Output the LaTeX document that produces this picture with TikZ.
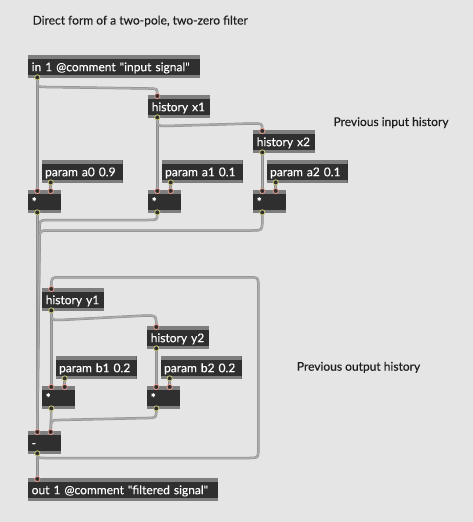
\documentclass[tikz,border=0pt]{standalone}
\usepackage{fontspec}
\newfontfamily\maxfont{Lato}[FakeBold=0.25]
\definecolor{bg}{HTML}{E5E5E5}
\definecolor{boxdark}{HTML}{2F2F2F}
\definecolor{strip}{HTML}{7E7E7E}
\definecolor{wirein}{HTML}{ABABAB}
\definecolor{wireout}{HTML}{8E8E8E}
\definecolor{inletc}{HTML}{E79C8E}
\definecolor{outletc}{HTML}{C9C77A}
\definecolor{comtext}{HTML}{1E1E1E}
\begin{document}
\begin{tikzpicture}[x=1pt,y=-1pt,
  obj/.style={anchor=north west, fill=boxdark, text=white, align=left,
    text width=#1, inner xsep=3.5pt, inner ysep=0pt,
    text height=16pt, text depth=7pt,
    font=\maxfont\fontsize{12}{14}\selectfont,
    path picture={
      \fill[strip] (path picture bounding box.north west) rectangle ([yshift=-3.5pt]path picture bounding box.north east);
      \fill[strip] (path picture bounding box.south west) rectangle ([yshift=3.5pt]path picture bounding box.south east);
    }},
  comment/.style={anchor=base west, inner sep=0pt, text=comtext, font=\maxfont\fontsize{12}{14}\selectfont},
  wire/.style={draw=wirein, line width=1.5pt, preaction={draw=wireout, line width=2.5pt}},
  inport/.style={fill=boxdark, draw=inletc, line width=0.8pt},
  outport/.style={fill=boxdark, draw=outletc, line width=0.8pt}
]
\fill[bg] (0,0) rectangle (473,522);
\useasboundingbox (0,0) rectangle (473,522);

% comments
\node[comment] (title) at (32.5,24.5) {Direct form of a two-pole, two-zero filter};
\node[comment] (cin) at (333.3,126) {Previous input history};
\node[comment] (cout) at (296.7,370.7) {Previous output history};

% objects
\node[obj=165pt] (in1) at (28,55) {in 1 @comment "input signal"};
\node[obj=55pt] (hx1) at (148,95) {history x1};
\node[obj=55pt] (hx2) at (253,130) {history x2};
\node[obj=74pt] (pa0) at (41.4,160) {param a0 0.9};
\node[obj=74pt] (pa1) at (161.4,160) {param a1 0.1};
\node[obj=74pt] (pa2) at (266.4,160) {param a2 0.1};
\node[obj=26pt] (ma1) at (28,190) {*};
\node[obj=26pt] (ma2) at (148,190) {*};
\node[obj=26pt] (ma3) at (253,190) {*};
\node[obj=55pt] (hy1) at (42,288) {history y1};
\node[obj=55pt] (hy2) at (147,326) {history y2};
\node[obj=74pt] (pb1) at (55.4,356) {param b1 0.2};
\node[obj=74pt] (pb2) at (160.4,356) {param b2 0.2};
\node[obj=26pt] (mb1) at (42,386) {*};
\node[obj=26pt] (mb2) at (147,386) {*};
\node[obj=26pt] (mn) at (28,431) {-};
\node[obj=183pt] (out1) at (28,478) {out 1 @comment "filtered signal"};

% port coordinates
\foreach \n in {in1,hx1,hx2,pa0,pa1,pa2,ma1,ma2,ma3,hy1,hy2,pb1,pb2,mb1,mb2,mn,out1}{
  \coordinate (\n-i1) at ([xshift=9.3pt]\n.north west);
  \coordinate (\n-i2) at ([xshift=22.7pt]\n.north west);
  \coordinate (\n-o) at ([xshift=9.3pt]\n.south west);
}

% straight wires
\draw[wire] (in1-o) -- (ma1-i1);
\draw[wire] (ma1-o) -- (mn-i1);
\draw[wire] (hx1-o) -- (ma2-i1);
\draw[wire] (hx2-o) -- (ma3-i1);
\draw[wire] (pa0-o) -- (ma1-i2);
\draw[wire] (pa1-o) -- (ma2-i2);
\draw[wire] (pa2-o) -- (ma3-i2);
\draw[wire] (hy1-o) -- (mb1-i1);
\draw[wire] (hy2-o) -- (mb2-i1);
\draw[wire] (pb1-o) -- (mb1-i2);
\draw[wire] (pb2-o) -- (mb2-i2);
\draw[wire] (mb1-o) -- (mn-i2);
\draw[wire] (mn-o) -- (out1-i1);

% bent wires
\draw[wire] (in1-o) .. controls (37.3,87) .. (46,87) -- (148,88.5) .. controls (157.3,88.5) .. (hx1-i1);
\draw[wire] (hx1-o) .. controls (157.3,126) .. (166,126) -- (252,123.5) .. controls (262.3,123.5) .. (hx2-i1);
\draw[wire] (ma2-o) .. controls (157.3,220) .. (148,220) -- (49,220) .. controls (39.5,220) .. (39.5,230) -- (mn-i1);
\draw[wire] (ma3-o) -- (262.3,220) .. controls (262.3,230.5) .. (252,230.5) -- (49,230.5) .. controls (39.5,230.5) .. (39.5,241) -- (mn-i1);
\draw[wire] (mn-o) .. controls (37.3,458) .. (46,458) -- (249,458) .. controls (258.3,458) .. (258.3,449) -- (258.3,286) .. controls (258.3,277.3) .. (249,277.3) -- (60,277.3) .. controls (51.3,277.3) .. (hy1-i1);
\draw[wire] (hy1-o) .. controls (51.3,320) .. (60,320) -- (146,315.5) .. controls (156.3,315.5) .. (hy2-i1);
\draw[wire] (mb2-o) .. controls (156.3,418) .. (147,418) -- (60,420) .. controls (50.7,420) .. (mn-i2);

% ports
\foreach \n in {in1,hx1,hx2,pa0,pa1,pa2,ma1,ma2,ma3,hy1,hy2,pb1,pb2,mb1,mb2,mn}{
  \path[outport] ([yshift=1pt]\n-o) circle (2.6pt);
}
\foreach \n in {hx1,hx2,ma1,ma2,ma3,hy1,hy2,mb1,mb2,mn,out1}{
  \path[inport] ([yshift=-1pt]\n-i1) circle (2.6pt);
}
\foreach \n in {ma1,ma2,ma3,mb1,mb2,mn}{
  \path[inport] ([yshift=-1pt]\n-i2) circle (2.6pt);
}
\end{tikzpicture}
\end{document}
